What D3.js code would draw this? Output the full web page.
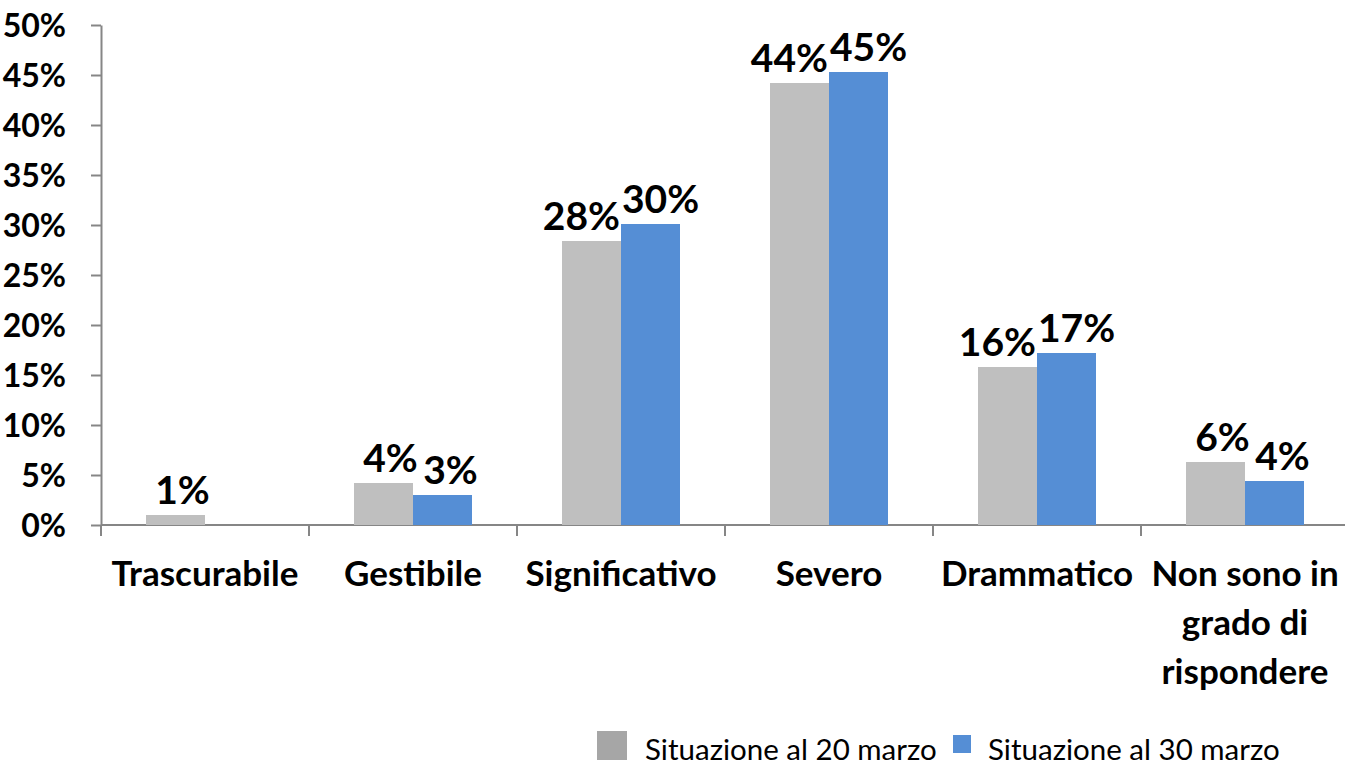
<!DOCTYPE html>
<html>
<head>
<meta charset="utf-8">
<script src="https://cdn.jsdelivr.net/npm/d3@7"></script>
<style>
  body { margin: 0; background: #fff; }
  svg { display: block; font-family: Lato, "Open Sans", sans-serif; }
</style>
</head>
<body>
<script>

// Categories (each label split into lines as in the original)
var categories = ["Trascurabile", "Gestibile", "Significativo", "Severo", "Drammatico", "Non sono in grado di rispondere"];
var categoryLines = [["Trascurabile"], ["Gestibile"], ["Significativo"], ["Severo"], ["Drammatico"], ["Non sono in", "grado di", "rispondere"]];

var seriesNames = ["Situazione al 20 marzo", "Situazione al 30 marzo"];
var march20 = [1.0, 4.2, 28.4, 44.2, 15.8, 6.3];
var march30 = [0, 3.0, 30.1, 45.3, 17.2, 4.4];
var labels20 = ["1%", "4%", "28%", "44%", "16%", "6%"];
var labels30 = ["", "3%", "30%", "45%", "17%", "4%"];

var yTicks = [0, 5, 10, 15, 20, 25, 30, 35, 40, 45, 50];

var colors = ["#bfbfbf", "#558ed5"];

const width = 1345;
const height = 769;
const marginLeft = 101;
const marginTop = 25;
const marginBottom = 244;

const svg = d3.select("body").append("svg")
    .attr("width", width)
    .attr("height", height)
    .attr("viewBox", [0, 0, width, height]);

// Scales
const x = d3.scaleBand()
    .domain(categories)
    .range([marginLeft, marginLeft + 208 * categories.length])
    .paddingInner(0);

const y = d3.scaleLinear()
    .domain([0, 50])
    .range([height - marginBottom, marginTop]);

const barW = 59;

// Y axis
svg.append("g")
    .attr("transform", `translate(${marginLeft},0)`)
    .call(d3.axisLeft(y).tickValues(yTicks).tickSize(10).tickSizeOuter(0).tickPadding(25).tickFormat(d => d + "%"))
    .call(g => g.select(".domain").attr("stroke", "#868686").attr("stroke-width", 2))
    .call(g => g.selectAll(".tick line").attr("stroke", "#868686").attr("stroke-width", 2))
    .call(g => g.selectAll(".tick text")
        .attr("font-family", "Lato, sans-serif")
        .attr("font-weight", "bold")
        .attr("font-size", 32)
        .attr("fill", "#000")
        .attr("dy", "0.36em"));

// X axis line and category ticks
svg.append("line")
    .attr("x1", marginLeft).attr("x2", width)
    .attr("y1", y(0)).attr("y2", y(0))
    .attr("stroke", "#868686").attr("stroke-width", 2);

svg.append("g")
    .selectAll("line")
    .data(categories)
    .join("line")
    .attr("x1", d => x(d)).attr("x2", d => x(d))
    .attr("y1", y(0)).attr("y2", y(0) + 11)
    .attr("stroke", "#868686").attr("stroke-width", 2);

// Bars
var series = [march20, march30];
series.forEach(function(vals, s) {
    svg.append("g")
        .attr("fill", colors[s])
        .selectAll("rect")
        .data(categories)
        .join("rect")
        .attr("x", (d, i) => x(d) + x.bandwidth() / 2 - barW + s * barW)
        .attr("y", (d, i) => y(vals[i]))
        .attr("width", barW)
        .attr("height", (d, i) => y(0) - y(vals[i]));
});

// Data labels: centred over bars, pushed apart when the pair would collide
var labelSets = [labels20, labels30];
var labelNodes = labelSets.map(function(labs, s) {
    return svg.append("g")
        .selectAll("text")
        .data(categories)
        .join("text")
        .attr("x", (d, i) => x(d) + x.bandwidth() / 2 - barW / 2 + s * barW)
        .attr("y", (d, i) => y(series[s][i]) - 11)
        .attr("text-anchor", "middle")
        .attr("font-weight", "bold")
        .attr("font-size", 39)
        .attr("fill", "#000")
        .text((d, i) => labs[i])
        .nodes();
});

categories.forEach(function(c, i) {
    var a = labelNodes[0][i], b = labelNodes[1][i];
    var wa = a.getComputedTextLength(), wb = b.getComputedTextLength();
    var ca = +a.getAttribute("x"), cb = +b.getAttribute("x");
    var overlap = (ca + wa / 2) - (cb - wb / 2) + 2;
    if (overlap > 0) {
        a.setAttribute("x", ca - overlap / 2);
        b.setAttribute("x", cb + overlap / 2);
    } else {
        a.setAttribute("x", ca + 7);
        b.setAttribute("x", cb + 8);
    }
});

// Category labels
const catG = svg.append("g")
    .selectAll("text")
    .data(categories)
    .join("text")
    .attr("x", d => x(d) + x.bandwidth() / 2)
    .attr("y", 586)
    .attr("text-anchor", "middle")
    .attr("font-weight", "bold")
    .attr("font-size", 35)
    .attr("fill", "#000");

catG.selectAll("tspan")
    .data((d, i) => categoryLines[i])
    .join("tspan")
    .attr("x", function() { return this.parentNode.getAttribute("x"); })
    .attr("dy", (d, j) => j === 0 ? 0 : 49)
    .text(d => d);

// Legend
const legend = svg.append("g");
var legendBox = [[597, 731, 30, 29], [953, 735, 18, 18]];
var legendColors = ["#a6a6a6", colors[1]];
seriesNames.forEach(function(name, s) {
    legend.append("rect")
        .attr("x", legendBox[s][0]).attr("y", legendBox[s][1])
        .attr("width", legendBox[s][2]).attr("height", legendBox[s][3])
        .attr("fill", legendColors[s]);
    legend.append("text")
        .attr("x", s === 0 ? 645 : 988)
        .attr("y", 760)
        .attr("font-size", 29.5)
        .attr("fill", "#000")
        .text(name);
});

</script>
</body>
</html>
